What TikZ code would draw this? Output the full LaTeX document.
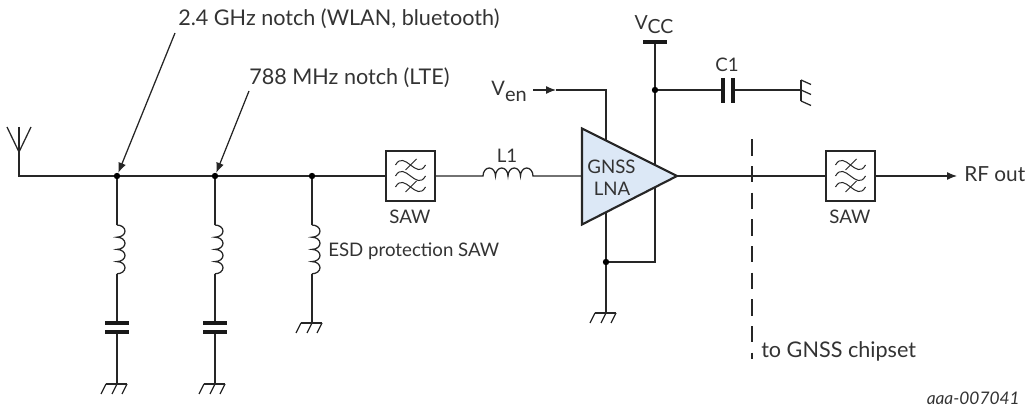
\documentclass[tikz,border=0pt]{standalone}
\usepackage{fontspec}
\setmainfont{Lato}
\usepackage{tikz}
\usetikzlibrary{arrows.meta}
\definecolor{lnafill}{RGB}{220,232,246}
\tikzset{
  wire/.style={line width=0.95pt,color=black!85},
  plate/.style={line width=3pt,color=black!90},
  dotnode/.style={circle,fill=black,inner sep=0pt,minimum size=4.8pt},
  lbl/.style={inner sep=0pt,text=black!80,font=\fontsize{16.2pt}{18pt}\selectfont},
  small lbl/.style={inner sep=0pt,text=black!80,font=\fontsize{14pt}{16pt}\selectfont},
  sawbox/.style={draw=black!85,line width=1.6pt,minimum size=37pt,inner sep=0pt,fill=white},
  tip/.style={-{Latex[length=7.5pt,width=6pt]}}
}
\newcommand{\gnd}[1]{%
  \draw[wire] (#1) ++(-11,0) -- ++(21,0);
  \foreach \dx in {-11,0,10}
    \draw[wire] (#1) ++(\dx,0) -- ++(-5,-10);
}
\newcommand{\vcoil}[1]{%
  \draw[wire] (#1) arc[start angle=90,end angle=-90,x radius=8,y radius=6.1]
    arc[start angle=90,end angle=-90,x radius=8,y radius=6.1]
    arc[start angle=90,end angle=-90,x radius=8,y radius=6.1]
    arc[start angle=90,end angle=-90,x radius=8,y radius=6.1];
}
\newcommand{\sawwave}[1]{%
  \foreach \dy in {-11,0,11}
    \draw[wire,line width=0.75pt] (#1) ++(-15,\dy) .. controls +(9,16) and +(-9,-16) .. ++(30,0);
  \draw[wire,line width=0.75pt] (#1) ++(-5,6) -- ++(11,11);
  \draw[wire,line width=0.75pt] (#1) ++(-5,-16) -- ++(11,11);
}
\begin{document}
\begin{tikzpicture}[x=0.75pt,y=0.75pt]
  \useasboundingbox (0,0) rectangle (1026,-409);
  % antenna and main line
  \coordinate (ant) at (19,-176);
  \coordinate (anttop) at (19,-127);
  \coordinate (antfork) at (19,-152);
  \node[dotnode] (j1) at (117,-176) {};
  \node[dotnode] (j2) at (215,-176) {};
  \node[dotnode] (j3) at (312,-176) {};
  \node[sawbox] (saw1) at (410.5,-176) {};
  \node[sawbox] (saw2) at (850.5,-176) {};
  \draw[wire] (anttop) -- (ant) -- (j1) -- (j2) -- (j3) -- (saw1);
  \draw[wire] (antfork) -- ++(-12,25) (antfork) -- ++(12,25);
  % shunt branches
  \foreach \nm/\xx in {a/117,b/215}{
    \coordinate (\nm top) at (\xx,-225);
    \coordinate (\nm bot) at (\xx,-274);
    \coordinate (\nm c1) at (\xx,-323);
    \coordinate (\nm c2) at (\xx,-332);
    \coordinate (\nm g) at (\xx,-384);
    \vcoil{\nm top}
    \draw[wire] (\nm bot) -- (\nm c1) (\nm c2) -- (\nm g);
    \draw[plate] (\xx-12,-323) -- (\xx+12,-323);
    \draw[plate] (\xx-12,-332) -- (\xx+12,-332);
    \gnd{\nm g}
  }
  \draw[wire] (j1) -- (atop) (j2) -- (btop);
  \coordinate (ctop) at (312,-225);
  \coordinate (cbot) at (312,-274);
  \coordinate (cg) at (312,-323);
  \vcoil{ctop}
  \draw[wire] (j3) -- (ctop) (cbot) -- (cg);
  \gnd{cg}
  % L1
  \coordinate (l1a) at (483,-176);
  \coordinate (lnain) at (581,-176);
  \draw[wire] (saw1) -- (l1a)
    arc[start angle=180,end angle=0,x radius=6.25,y radius=8]
    arc[start angle=180,end angle=0,x radius=6.25,y radius=8]
    arc[start angle=180,end angle=0,x radius=6.25,y radius=8]
    arc[start angle=180,end angle=0,x radius=6.25,y radius=8] -- (lnain);
  % supply and bias wires behind the amplifier
  \node[dotnode] (jvcc) at (655,-90) {};
  \node[dotnode] (jgnd) at (606,-262) {};
  \coordinate (vcc) at (655,-42);
  \coordinate (en) at (606,-90);
  \coordinate (engo) at (533,-90);
  \coordinate (enmid) at (556,-90);
  \coordinate (lnag) at (606,-313);
  \coordinate (retn) at (655,-262);
  \draw[wire] (vcc) -- (jvcc) -- (retn) -- (jgnd);
  \draw[wire] (enmid) -- (en) -- (jgnd) -- (lnag);
  \draw[wire,tip] (engo) -- (enmid);
  \draw[plate] (643,-42) -- (667,-42);
  \gnd{lnag}
  % amplifier
  \draw[draw=black!85,line width=1.6pt,fill=lnafill,line join=miter]
    (582,-128.5) -- (677,-176) -- (582,-224.5) -- cycle;
  \coordinate (lnaout) at (677,-176);
  \node[small lbl] (gnss) at (611.5,-167) {GNSS};
  \node[small lbl] (lna) at (612,-189) {LNA};
  \draw[wire] (lnaout) -- (saw2);
  \coordinate (rf) at (957,-176);
  \draw[wire,tip] (saw2) -- (rf);
  % C1
  \coordinate (c1a) at (723,-90);
  \coordinate (c1b) at (733,-90);
  \coordinate (c1g) at (801,-90);
  \draw[wire] (jvcc) -- (c1a) (c1b) -- (c1g);
  \draw[plate,line width=3.3pt] (723,-78) -- (723,-103);
  \draw[plate,line width=3.3pt] (733,-78) -- (733,-103);
  \draw[wire] (801,-80) -- (801,-101);
  \foreach \yy in {-80,-90,-101}
    \draw[wire] (801,\yy) -- ++(10,-4.5);
  % dashed cut
  \coordinate (cut1) at (752,-139.4);
  \coordinate (cut2) at (752,-359);
  \draw[wire,dash pattern=on 12.2pt off 7.8pt] (cut1) -- (cut2);
  % notch pointers
  \coordinate (n1) at (175,-33);
  \coordinate (n2) at (249,-91);
  \draw[wire,tip] (n1) -- (j1);
  \draw[wire,tip] (n2) -- (j2);
  % filter marks
  \sawwave{saw1}
  \sawwave{saw2}
  % labels
  \node[lbl,anchor=base west] (notcha) at (178,-26) {2.4 GHz notch (WLAN, bluetooth)};
  \node[lbl,anchor=base west] (notchb) at (249,-85) {788 MHz notch (LTE)};
  \node[lbl,anchor=base east,font=\fontsize{15pt}{18pt}\selectfont] (venlbl) at (527,-96) {V\raisebox{-4pt}{en}};
  \node[lbl,anchor=base,font=\fontsize{14.6pt}{18pt}\selectfont] (vcclbl) at (654,-30) {V\raisebox{-3pt}{CC}};
  \node[small lbl] (clbl) at (727,-65) {C1};
  \node[small lbl] (llbl) at (507,-156) {L1};
  \node[small lbl] (sawa) at (410,-217) {SAW};
  \node[small lbl] (sawb) at (850,-217) {SAW};
  \node[small lbl,anchor=west] (esd) at (328,-251) {ESD protection SAW};
  \node[lbl,anchor=base west,font=\fontsize{15.6pt}{18pt}\selectfont] (rflbl) at (964,-182) {RF out};
  \node[lbl,anchor=base west] (chip) at (761,-358) {to GNSS chipset};
  \node[small lbl,anchor=base east,font=\fontsize{13pt}{15pt}\selectfont\itshape] (docid) at (1020,-405) {aaa-007041};
\end{tikzpicture}
\end{document}
